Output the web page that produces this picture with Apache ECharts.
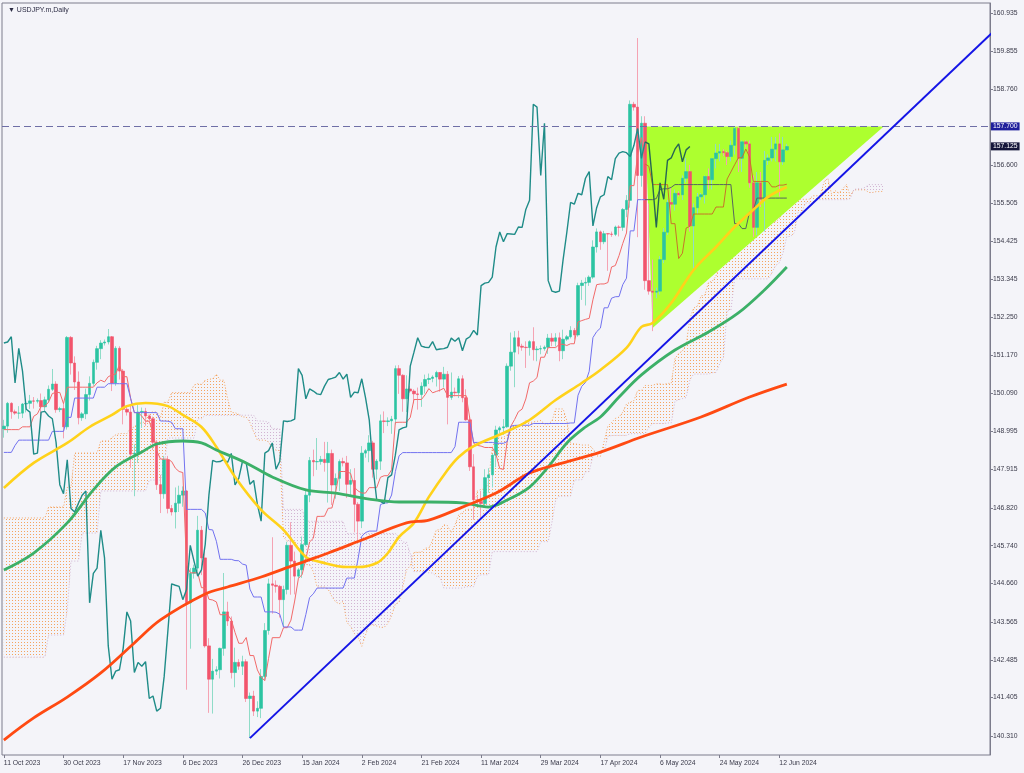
<!DOCTYPE html>
<html><head><meta charset="utf-8">
<script src="https://cdn.jsdelivr.net/npm/echarts@6/dist/echarts.min.js"></script>
<style>html,body{margin:0;padding:0;background:#f4f4f9;}#c{width:1024px;height:773px;}</style>
</head><body><div id="c"></div>
<script>
// ---------- categories / ticks ----------
const firstDay = [2023, 9, 11];            // 11 Oct 2023 (month 0-based)
const skippedDays = ['2023-12-25', '2024-01-01'];
const slotCount = 265;
const monthNames = ['Jan','Feb','Mar','Apr','May','Jun','Jul','Aug','Sep','Oct','Nov','Dec'];
const tickLabels = ['11 Oct 2023','30 Oct 2023','17 Nov 2023','6 Dec 2023','26 Dec 2023','15 Jan 2024','2 Feb 2024','21 Feb 2024','11 Mar 2024','29 Mar 2024','17 Apr 2024','6 May 2024','24 May 2024','12 Jun 2024'];
const priceTicks = [160.935,159.855,158.760,156.600,155.505,154.425,153.345,152.250,151.170,150.090,148.995,147.915,146.820,145.740,144.660,143.565,142.485,141.405,140.310];
const yMin = 139.768, yMax = 161.220;
const levelPrice = 157.700;
const lastPrice = 157.125;

// ---------- candles ----------
const opens = [149.07,149.15,149.80,149.56,149.52,149.52,149.78,149.80,149.87,149.86,
149.88,149.70,149.90,150.20,150.35,149.62,149.65,149.13,151.68,150.95,
150.41,149.39,149.50,150.05,150.37,150.97,151.36,151.52,151.55,151.70,
150.38,151.37,150.72,149.63,149.55,148.35,148.38,149.55,149.57,149.44,
149.36,148.69,147.48,147.22,148.19,146.80,146.70,146.95,147.18,147.30,
144.11,144.95,145.10,146.18,145.39,142.88,141.93,142.16,142.20,142.81,
143.85,143.59,142.12,142.41,142.30,142.43,141.38,141.45,141.02,141.10,
142.01,143.32,144.65,144.61,144.58,144.20,144.49,145.75,145.30,144.87,
145.05,145.77,147.18,148.17,148.13,148.14,148.20,148.11,148.37,147.47,
147.66,148.14,148.10,147.49,147.60,146.92,146.44,148.38,148.45,148.67,
147.92,148.15,149.30,149.28,149.30,149.35,150.79,150.60,149.93,150.21,
150.15,150.07,150.05,150.29,150.48,150.51,150.55,150.68,150.49,150.63,
149.97,150.12,150.10,150.50,149.96,149.33,147.99,147.05,147.00,146.94,
147.68,147.76,148.32,149.04,149.10,149.13,150.86,151.26,151.67,151.43,
151.40,151.39,151.56,151.33,151.35,151.36,151.40,151.66,151.57,151.67,
151.30,151.63,151.70,151.88,151.75,153.16,153.23,153.25,153.40,154.26,
154.69,154.41,154.64,154.63,154.62,154.83,154.82,155.33,155.59,158.33,
158.25,156.30,157.79,153.30,153.00,152.97,153.00,153.90,154.68,155.53,
155.48,155.79,155.75,156.22,156.41,154.86,155.38,155.69,155.75,156.27,
156.18,156.78,156.94,156.98,156.95,156.84,157.16,157.64,156.79,157.26,
157.20,156.09,154.82,156.09,155.62,156.73,156.80,157.05,157.20,156.69,
157.03];
const highs = [149.33,149.84,149.83,149.62,149.72,149.81,149.90,150.04,149.98,149.94,
150.08,149.99,150.31,150.78,150.43,149.70,149.79,151.72,151.72,151.14,
150.71,149.55,150.22,150.57,151.05,151.44,151.60,151.62,151.92,151.72,
151.43,151.43,150.78,149.70,149.75,148.63,149.75,149.68,149.67,149.48,
149.42,148.75,147.76,148.30,148.30,146.90,147.40,147.45,147.43,147.32,
145.10,145.20,146.59,146.30,145.58,143.10,142.51,142.30,142.83,144.96,
144.14,143.72,142.83,142.50,142.60,142.50,141.55,141.60,141.30,142.22,
143.53,144.80,145.98,144.75,144.62,144.60,145.85,146.41,145.57,145.10,
146.00,147.30,148.27,148.48,148.81,148.30,148.70,148.70,148.48,147.80,
148.20,148.25,148.30,147.92,147.95,146.98,148.58,148.50,148.89,148.73,
148.21,149.48,149.57,149.40,149.44,150.88,150.89,150.63,150.60,150.30,
150.20,150.25,150.40,150.62,150.65,150.60,150.73,150.69,150.84,150.72,
150.68,150.25,150.58,150.60,150.20,149.40,148.35,147.15,147.30,147.92,
147.95,148.36,149.16,149.15,149.35,150.94,151.82,151.86,151.87,151.50,
151.57,151.60,151.97,151.43,151.45,151.45,151.78,151.80,151.80,151.82,
151.90,151.75,152.00,151.95,153.24,153.32,153.39,153.45,154.45,154.79,
154.73,154.72,154.65,154.70,154.87,154.88,155.37,155.74,158.44,158.40,
160.22,157.99,157.99,155.50,153.90,153.10,154.00,154.80,155.60,155.95,
155.90,155.85,156.30,156.80,156.60,155.50,155.80,155.80,156.30,156.50,
156.80,157.20,157.20,157.05,157.00,157.30,157.71,157.70,157.30,157.30,
157.30,156.30,156.40,156.40,157.00,156.90,157.40,157.40,157.50,157.40,
157.20];
const lows = [148.82,148.96,149.36,149.47,149.36,149.38,149.54,149.64,149.65,149.80,
149.44,149.55,149.82,150.15,149.53,149.55,148.80,149.05,150.62,150.18,
149.20,149.30,149.35,149.88,150.30,150.76,151.06,151.45,151.48,150.15,
150.30,150.48,149.20,149.45,147.96,147.15,148.10,149.10,149.16,149.30,
148.47,147.33,146.67,147.08,146.66,146.60,146.23,146.70,146.85,141.63,
142.80,144.80,145.00,144.90,142.83,140.97,140.95,142.05,141.95,142.60,
143.45,141.95,141.70,142.20,142.05,141.28,140.25,140.88,140.85,140.82,
141.91,143.20,143.80,144.40,143.69,143.42,144.35,144.34,144.35,144.80,
144.82,145.72,146.98,147.72,147.90,148.05,147.85,146.97,146.90,147.08,
147.30,148.00,147.10,147.13,146.12,145.90,146.24,148.25,148.12,147.68,
147.63,147.90,148.95,149.15,148.93,149.20,150.07,149.56,149.55,150.10,
149.80,149.62,149.70,150.08,150.35,150.40,150.28,150.13,150.25,149.20,
149.90,150.00,149.95,149.83,149.30,147.87,146.48,146.90,146.48,146.82,
147.25,147.40,147.98,148.95,148.90,149.10,150.73,150.26,151.20,151.30,
150.81,151.16,151.02,151.00,151.20,151.30,151.21,151.43,151.42,151.00,
151.06,151.58,151.65,151.62,151.70,152.75,152.59,153.15,153.35,154.10,
154.18,154.34,153.58,154.55,154.57,154.56,154.72,155.11,155.38,158.15,
154.54,155.98,153.04,152.90,151.86,152.80,152.90,153.80,154.60,155.20,
155.30,155.70,155.60,156.10,154.70,153.60,155.20,155.60,155.50,155.90,
155.90,156.50,156.70,156.85,156.60,156.70,156.90,156.40,156.40,157.10,
155.95,154.55,154.60,155.40,154.70,156.60,156.70,156.70,155.70,156.60,
157.00];
const closes = [149.15,149.80,149.56,149.52,149.52,149.78,149.80,149.87,149.86,149.88,
149.70,149.90,150.20,150.35,149.62,149.65,149.13,151.68,150.95,150.41,
149.39,149.50,150.05,150.37,150.97,151.36,151.52,151.55,151.70,150.38,
151.37,150.72,149.63,149.55,148.35,148.38,149.55,149.57,149.44,149.36,
148.69,147.48,147.22,148.19,146.80,146.70,146.95,147.18,147.30,144.11,
144.95,145.10,146.18,145.39,142.88,141.93,142.16,142.20,142.81,143.85,
143.59,142.12,142.41,142.30,142.43,141.38,141.45,141.02,141.10,142.01,
143.32,144.65,144.61,144.58,144.20,144.49,145.75,145.30,144.87,145.05,
145.77,147.18,148.17,148.13,148.14,148.20,148.11,148.37,147.47,147.66,
148.14,148.10,147.49,147.60,146.92,146.44,148.38,148.45,148.67,147.92,
148.15,149.30,149.28,149.30,149.35,150.79,150.60,149.93,150.21,150.15,
150.07,150.05,150.29,150.48,150.51,150.55,150.68,150.49,150.63,149.97,
150.12,150.10,150.50,149.96,149.33,147.99,147.05,147.00,146.94,147.68,
147.76,148.32,149.04,149.10,149.13,150.86,151.26,151.67,151.43,151.40,
151.39,151.56,151.33,151.35,151.36,151.40,151.66,151.57,151.67,151.30,
151.63,151.70,151.88,151.75,153.16,153.23,153.25,153.40,154.26,154.69,
154.41,154.64,154.63,154.62,154.83,154.82,155.33,155.59,158.33,158.25,
156.30,157.79,153.30,153.00,152.97,153.00,153.90,154.68,155.53,155.48,
155.79,155.75,156.22,156.41,154.86,155.38,155.69,155.75,156.27,156.18,
156.78,156.94,156.98,156.95,156.84,157.16,157.64,156.79,157.26,157.20,
156.09,154.82,156.09,155.62,156.73,156.80,157.05,157.20,156.69,157.03,
157.125];

// ---------- Ichimoku (read per bar) ----------
const tenkan = [149.05,149.05,149.05,149.05,149.05,149.13,149.13,149.13,149.43,149.50,
149.72,149.72,149.835,150.08,150.11,150.11,149.79,150.26,150.26,150.26,
150.26,150.26,150.26,150.26,150.26,150.385,150.46,150.41,150.56,150.61,
150.635,150.90,150.56,150.56,149.94,149.535,149.535,149.435,149.29,149.29,
148.965,148.45,148.21,148.21,148.205,148.14,147.95,147.855,147.825,145.19,
144.965,144.965,144.965,144.54,144.54,144.21,144.19,144.135,143.77,143.77,
143.77,143.625,143.265,142.955,142.955,143.12,142.605,142.605,142.195,141.985,
141.89,142.525,143.115,143.115,143.115,143.40,143.40,143.615,144.16,144.805,
144.915,145.36,145.845,145.95,146.575,146.575,146.58,146.805,146.815,147.265,
147.855,147.855,147.855,147.80,147.41,147.30,147.24,147.24,147.395,147.395,
147.395,147.69,147.735,147.735,147.905,149.255,149.26,149.26,149.26,149.395,
149.91,149.91,149.91,150.045,150.22,150.10,150.14,150.175,150.23,150.02,
150.02,150.02,150.02,150.02,150.02,149.355,148.66,148.60,148.58,148.54,
148.54,148.54,148.34,147.94,147.915,148.71,149.15,149.34,149.56,149.635,
149.925,150.385,150.435,150.535,151.115,151.115,151.39,151.39,151.39,151.485,
151.485,151.45,151.50,151.50,152.12,152.16,152.195,152.225,152.755,153.185,
153.205,153.205,153.245,153.69,153.73,154.015,154.36,154.66,156.01,156.01,
156.90,157.38,156.63,156.56,156.04,156.04,156.04,156.04,156.04,154.925,
154.925,153.93,154.08,154.80,154.85,155.20,155.20,155.20,155.20,155.20,
155.20,155.40,155.40,155.40,156.20,156.40,156.605,156.805,156.805,157.055,
156.83,156.13,156.13,156.13,156.13,156.125,155.975,155.975,156.025,156.025,
156.05];
const kijun = [148.4,148.4,148.4,148.6,148.75,148.75,148.75,148.75,148.75,148.75,
148.75,148.75,148.75,149.0,149.0,149.0,149.0,149.4,149.4,149.95,
149.95,149.95,149.95,149.95,149.95,150.26,150.26,150.26,150.36,150.36,
150.36,150.36,150.36,150.36,149.94,149.535,149.535,149.535,149.535,149.535,
149.535,149.535,149.295,149.295,149.29,149.26,149.075,149.075,149.075,146.775,
146.775,146.775,146.775,146.775,146.675,146.20,146.19,145.865,145.35,145.35,
145.35,145.35,145.315,145.31,145.215,145.185,144.50,144.275,144.275,144.275,
143.85,143.85,143.85,143.84,143.785,143.42,143.42,143.42,143.33,143.33,
143.33,143.775,144.26,144.365,144.53,144.53,144.53,144.53,144.53,144.53,
144.53,144.53,144.815,144.815,144.815,145.36,146.005,146.115,146.155,146.155,
146.155,146.91,146.955,146.96,147.185,147.85,148.305,148.395,148.395,148.395,
148.395,148.395,148.395,148.395,148.395,148.395,148.395,148.395,148.395,148.395,
148.395,148.565,149.26,149.26,149.26,149.26,148.685,148.685,148.685,148.685,
148.685,148.685,148.66,148.66,148.66,148.71,149.15,149.17,149.175,149.175,
149.175,149.175,149.225,149.225,149.225,149.225,149.225,149.225,149.225,149.225,
149.225,149.225,149.24,149.24,150.03,150.285,150.395,150.715,151.675,151.845,
151.945,152.525,152.525,152.80,152.84,152.845,153.185,153.37,154.72,154.72,
155.61,155.61,155.61,155.61,155.61,155.64,155.90,155.92,155.92,155.96,
156.04,156.04,156.04,156.04,156.04,156.04,156.04,156.04,156.04,156.04,
156.04,156.04,156.04,156.04,156.04,156.04,154.925,154.925,154.785,154.785,
155.255,155.305,155.655,155.655,155.655,155.655,155.655,155.655,155.655,155.655,
155.655];
// Senkou spans, already displaced 26 bars forward (index 0 = 11 Oct 2023)
const senkouA = [146.53,146.53,146.53,146.53,146.53,146.53,146.53,146.53,146.53,146.53,
146.53,146.53,146.84,146.84,146.84,146.84,146.84,147.4,147.4,148.38,
148.38,148.38,148.38,148.38,148.38,148.38,148.725,148.725,148.725,148.825,
148.9,148.94,148.94,148.94,149.09,149.125,149.235,149.235,149.29,149.54,
149.555,149.555,149.395,149.83,149.83,150.105,150.105,150.105,150.105,150.105,
150.105,150.32,150.36,150.335,150.46,150.485,150.50,150.63,150.46,150.46,
149.94,149.535,149.535,149.485,149.41,149.41,149.25,148.99,148.75,148.75,
148.75,148.70,148.51,148.465,148.45,145.98,145.87,145.87,145.87,145.66,
145.61,145.205,145.19,145.00,144.56,144.56,144.56,144.49,144.29,144.13,
144.085,144.15,143.55,143.44,143.235,143.13,142.87,143.19,143.48,143.48,
143.45,143.41,143.41,143.52,143.745,144.07,144.12,144.57,145.05,145.16,
145.55,145.55,145.555,145.67,145.67,145.90,146.19,146.19,146.335,146.31,
146.11,146.33,146.62,146.68,146.775,146.775,146.775,147.30,147.345,147.35,
147.545,148.55,148.78,148.83,148.83,148.895,149.15,149.15,149.15,149.22,
149.31,149.25,149.27,149.285,149.31,149.21,149.21,149.29,149.64,149.64,
149.64,149.31,148.67,148.64,148.63,148.61,148.61,148.61,148.50,148.30,
148.29,148.71,149.15,149.255,149.37,149.405,149.55,149.78,149.83,149.88,
150.17,150.17,150.31,150.31,150.31,150.355,150.355,150.34,150.37,150.37,
151.075,151.22,151.295,151.47,152.215,152.515,152.575,152.865,152.885,153.245,
153.285,153.43,153.77,154.015,155.365,155.365,156.255,156.495,156.12,156.085,
155.825,155.84,155.97,155.98,155.98,155.44,155.48,154.985,155.06,155.42,
155.445,155.62,155.62,155.62,155.62,155.62,155.62,155.72,155.72,155.72,
156.12,156.22,155.765,155.865,155.795,155.92,156.04,155.72,155.89,155.89,
155.89,155.89,155.815,155.815,155.84,155.84,155.85];
const senkouB = [142.56,142.56,142.56,142.56,142.56,142.56,142.56,142.56,142.56,142.56,
142.56,142.56,143.19,143.19,143.19,143.19,143.19,143.9,145.3,145.3,
145.3,146.1,146.1,146.1,146.1,146.1,147.30,147.30,147.30,147.30,
147.30,147.30,147.30,147.30,147.30,147.30,147.30,147.30,147.30,147.61,
147.61,147.61,147.61,148.08,148.81,148.81,148.81,148.81,148.81,148.81,
148.81,148.81,149.36,149.36,149.46,149.46,149.46,149.46,149.46,149.46,
149.46,149.46,149.46,149.46,149.46,149.46,149.46,149.46,149.295,149.295,
149.29,149.26,149.075,149.075,149.075,146.775,146.775,146.775,146.775,146.775,
146.775,146.445,146.435,146.435,146.435,146.435,146.435,146.435,146.435,146.435,
146.435,146.435,146.085,146.085,146.085,146.085,146.085,146.085,146.085,146.085,
146.085,146.085,146.085,146.085,146.085,146.085,145.985,145.84,145.84,145.515,
145.00,145.00,145.00,145.00,144.965,144.96,144.865,144.835,144.53,144.53,
144.53,144.53,144.53,144.53,144.57,144.57,144.57,144.865,144.91,144.91,
144.91,145.565,145.57,145.57,145.57,145.57,145.57,145.57,145.57,145.57,
145.57,145.57,145.57,145.57,145.855,145.855,145.855,146.40,147.045,147.155,
147.155,147.155,147.155,147.615,147.615,147.62,147.845,147.855,148.305,148.395,
148.395,148.42,148.86,148.88,148.885,148.885,148.885,148.885,148.935,148.935,
148.935,148.935,148.935,149.105,149.225,149.225,149.225,149.225,149.24,149.24,
149.86,149.90,149.935,149.965,150.465,150.635,150.635,150.635,150.635,150.635,
150.675,150.68,150.925,151.11,152.46,152.46,153.35,153.35,153.35,153.35,
153.35,153.35,153.35,153.35,153.35,153.35,153.52,153.735,153.81,154.10,
154.56,154.56,154.66,155.24,155.24,155.515,155.515,155.515,155.61,155.61,
155.61,155.61,155.61,155.61,155.61,155.61,155.61,155.64,155.90,155.92,
155.92,155.96,156.04,156.04,156.04,156.04,156.04];
const chikouShift = 26;
const shadedFrom = 172;   // bar where the lines run inside the triangle

// ---------- moving averages (read at points: [bar, price]) ----------
const maYellow = [[0,147.385],[8,148.10],[17,148.67],[23,149.125],[29,149.47],[33,149.72],[38,149.81],[44,149.72],[48,149.47],[53,149.125],[57,148.555],[62,147.70],[69,146.76],[75,146.19],[81,145.42],[85,145.27],[92,145.13],[95,145.13],[100,145.245],[103,145.53],[106,145.99],[110,146.39],[114,147.13],[119,147.90],[122,148.27],[126,148.58],[134,148.955],[141,149.325],[148,149.895],[155,150.38],[160,150.75],[167,151.38],[171,151.98],[174,152.09],[179,152.66],[185,153.605],[191,154.26],[196,154.83],[201,155.32],[205,155.69],[210,155.97]];
const maGreen = [[0,145.045],[8,145.53],[17,146.39],[24,147.33],[30,147.985],[37,148.41],[41,148.64],[48,148.725],[53,148.67],[57,148.47],[65,148.10],[72,147.70],[81,147.33],[89,147.24],[98,147.07],[106,146.985],[114,146.985],[123,146.96],[130,146.84],[135,147.04],[141,147.41],[146,147.985],[151,148.67],[156,149.125],[160,149.41],[165,149.98],[171,150.61],[180,151.32],[189,151.835],[197,152.38],[204,153.035],[210,153.69]];
const maRed = [[0,140.195],[8,140.825],[17,141.42],[26,142.11],[35,142.965],[42,143.62],[54,144.36],[60,144.56],[69,144.845],[78,145.19],[87,145.53],[96,145.90],[108,146.39],[114,146.47],[123,146.84],[132,147.24],[141,147.81],[150,148.10],[160,148.41],[171,148.84],[187,149.41],[200,149.98],[210,150.35]];

// ---------- drawn objects ----------
const trendLine = [[65.5,140.25],[264.5,160.36]];
const triangleVertices = [[172.0,157.70],[173.9,151.95],[235.8,157.70]];

// ================= build =================
const categories = [];
{
  let t = Date.UTC(firstDay[0], firstDay[1], firstDay[2]);
  while (categories.length < slotCount) {
    const d = new Date(t);
    const iso = d.toISOString().slice(0,10);
    if (d.getUTCDay() !== 6 && skippedDays.indexOf(iso) < 0)
      categories.push(d.getUTCDate() + ' ' + monthNames[d.getUTCMonth()] + ' ' + d.getUTCFullYear());
    t += 86400000;
  }
}
const isTick = (i, v) => tickLabels.indexOf(v) >= 0;

function dots(color) {
  const c = document.createElement('canvas'); c.width = 3; c.height = 3;
  const g = c.getContext('2d'); g.fillStyle = color; g.fillRect(0, 0, 1, 1);
  return { image: c, repeat: 'repeat' };
}
const sandy = '#f4a460', thistle = '#d2b4d2';

const wickData = opens.map((o, i) => [o, closes[i], lows[i], highs[i]]);
const bodyData = opens.map((o, i) => [o, closes[i], Math.min(o, closes[i]), Math.max(o, closes[i])]);
const cloudBase = senkouA.map((a, i) => Math.min(a, senkouB[i]));
const cloudUp = senkouA.map((a, i) => Math.max(a - senkouB[i], 0));
const cloudDown = senkouA.map((a, i) => Math.max(senkouB[i] - a, 0));
const pairs = arr => arr.map((v, i) => [i, v]);
const chikou = closes.slice(chikouShift).map((v, j) => [j, v]);

const font = 'Liberation Sans, Arial, sans-serif';
const lineBase = { type: 'line', symbol: 'none', silent: true, animation: false };

const option = {
  animation: false,
  backgroundColor: '#f4f4f9',
  title: { text: '▼ USDJPY.m,Daily', left: 3, top: 2, textStyle: { fontSize: 7, fontWeight: 'normal', color: '#2c2c44', fontFamily: font } },
  grid: { left: 2, right: 34, top: 3, bottom: 18, show: true, borderColor: '#7c7c8c', borderWidth: 1, backgroundColor: 'transparent' },
  xAxis: {
    type: 'category', data: categories, boundaryGap: true,
    axisLine: { show: false },
    axisTick: { show: true, interval: isTick, alignWithLabel: true, length: 3, lineStyle: { color: '#7c7c8c' } },
    axisLabel: { interval: isTick, align: 'left', color: '#3a3a4a', fontSize: 6.8, fontFamily: font, margin: 5 },
    splitLine: { show: false }
  },
  yAxis: {
    type: 'value', position: 'right', min: yMin, max: yMax,
    axisLine: { show: true, lineStyle: { color: '#7c7c8c' } },
    axisTick: { show: true, customValues: priceTicks, length: 3, lineStyle: { color: '#7c7c8c' } },
    axisLabel: { customValues: priceTicks, formatter: v => v.toFixed(3), color: '#3a3a4a', fontSize: 6.8, fontFamily: font, margin: 3 },
    splitLine: { show: false }
  },
  series: [
    Object.assign({}, lineBase, { name: 'cloudBase', data: cloudBase, stack: 'cloud', lineStyle: { opacity: 0 }, z: 1 }),
    Object.assign({}, lineBase, { name: 'cloudUp', data: cloudUp, stack: 'cloud', lineStyle: { opacity: 0 }, areaStyle: { color: dots(sandy), opacity: 1 }, z: 1 }),
    Object.assign({}, lineBase, { name: 'cloudDown', data: cloudDown, stack: 'cloud', lineStyle: { opacity: 0 }, areaStyle: { color: dots(thistle), opacity: 1 }, z: 1 }),
    Object.assign({}, lineBase, { name: 'senkouA', data: senkouA, lineStyle: { color: sandy, width: 1, type: [1, 2] }, z: 1 }),
    Object.assign({}, lineBase, { name: 'senkouB', data: senkouB, lineStyle: { color: thistle, width: 1, type: [1, 2] }, z: 1 }),
    {
      type: 'custom', name: 'triangle', data: triangleVertices, silent: true, z: 2, animation: false,
      encode: { x: 0, y: 1 },
      renderItem: (params, api) => {
        if (params.dataIndex !== 0) return null;
        const pts = triangleVertices.map(v => api.coord(v));
        return { type: 'polygon', shape: { points: pts }, style: { fill: '#adff2f' } };
      }
    },
    {
      type: 'candlestick', name: 'wicks', data: wickData, barWidth: 1, silent: true, z: 3, animation: false,
      itemStyle: { color: '#8fdcc8', color0: '#f5a3b3', borderColor: '#8fdcc8', borderColor0: '#f5a3b3', borderWidth: 1 }
    },
    {
      type: 'candlestick', name: 'bodies', data: bodyData, barWidth: 3, silent: true, z: 3, animation: false,
      itemStyle: { color: '#2cc4a2', color0: '#f2546c', borderColor: '#2cc4a2', borderColor0: '#f2546c', borderWidth: 0.6 },
      markLine: {
        symbol: ['none', 'none'], silent: true, animation: false,
        data: [
          { yAxis: levelPrice, lineStyle: { color: '#6e6ea6', type: [7, 4], width: 1 },
            label: { show: true, position: 'end', formatter: levelPrice.toFixed(3), backgroundColor: '#1f1f9c', color: '#ffffff', padding: [1, 2, 0, 2], fontSize: 6.8, fontFamily: font, distance: 1 } },
          { yAxis: lastPrice, lineStyle: { color: 'rgba(0,0,0,0)', width: 0 },
            label: { show: true, position: 'end', formatter: lastPrice.toFixed(3), backgroundColor: '#15163a', color: '#ffffff', padding: [1, 2, 0, 2], fontSize: 6.8, fontFamily: font, distance: 1 } }
        ]
      }
    },
    Object.assign({}, lineBase, { name: 'tenkan', data: pairs(tenkan).slice(0, shadedFrom + 1), lineStyle: { color: '#f26a6a', width: 1 }, z: 4 }),
    Object.assign({}, lineBase, { name: 'tenkanIn', data: pairs(tenkan).slice(shadedFrom), lineStyle: { color: '#c8742a', width: 1 }, z: 4 }),
    Object.assign({}, lineBase, { name: 'kijun', data: pairs(kijun).slice(0, shadedFrom + 1), lineStyle: { color: '#7272f0', width: 1 }, z: 4 }),
    Object.assign({}, lineBase, { name: 'kijunIn', data: pairs(kijun).slice(shadedFrom), lineStyle: { color: '#566660', width: 1 }, z: 4 }),
    Object.assign({}, lineBase, { name: 'chikou', data: chikou.slice(0, shadedFrom + 1), lineStyle: { color: '#1f8c88', width: 1.4 }, z: 4 }),
    Object.assign({}, lineBase, { name: 'chikouIn', data: chikou.slice(shadedFrom), lineStyle: { color: '#276654', width: 1.4 }, z: 4 }),
    Object.assign({}, lineBase, { name: 'maYellow', data: maYellow, smooth: 0.35, lineStyle: { color: '#ffd21a', width: 2.6 }, z: 5 }),
    Object.assign({}, lineBase, { name: 'maGreen', data: maGreen, smooth: 0.35, lineStyle: { color: '#3cb068', width: 2.8 }, z: 5 }),
    Object.assign({}, lineBase, { name: 'maRed', data: maRed, smooth: 0.35, lineStyle: { color: '#ff4a12', width: 2.8 }, z: 5 }),
    Object.assign({}, lineBase, { name: 'trend', data: trendLine, lineStyle: { color: '#1414e6', width: 2 }, z: 6 })
  ]
};
const chart = echarts.init(document.getElementById('c'), null, { renderer: 'canvas' });
chart.setOption(option);
</script>
</body></html>
